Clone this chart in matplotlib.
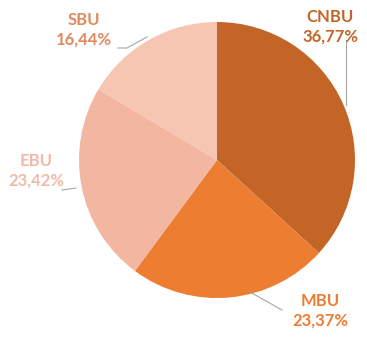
import matplotlib.pyplot as plt

# datos
labels = ['CNBU', 'MBU', 'EBU', 'SBU']
values = [36.77, 23.37, 23.42, 16.44]
pct_text = ['36,77%', '23,37%', '23,42%', '16,44%']
colors = ['#C46528', '#ED7D31', '#F3B6A1', '#F6C6B3']
text_colors = ['#C46528', '#ED7D31', '#F1B9A9', '#DE8A5E']

fig = plt.figure(figsize=(3.67, 3.38), dpi=100)
ax = fig.add_axes([0, 0, 1, 1])

H = 338
ax.pie(values, colors=colors, startangle=90, counterclock=False,
       center=(217, H - 160), radius=138, frame=True,
       wedgeprops={'linewidth': 0})
ax.set_xlim(0, 367)
ax.set_ylim(0, 338)
ax.set_aspect('equal')
ax.axis('off')

# posiciones de las etiquetas (pixeles)
label_pos = [(330, 27), (320, 311), (36, 171), (84, 30)]
for lab, pct, c, (x, y) in zip(labels, pct_text, text_colors, label_pos):
    ax.text(x, H - y, lab + '\n' + pct, color=c, fontsize=12,
            fontweight='bold', family='Lato', ha='center', va='center',
            linespacing=1.3)

# lineas guia
lines = [
    ([346, 346], [40, 105]),
    ([250, 282], [292, 310]),
    ([62, 76], [190, 188]),
    ([118, 127, 147], [48, 48, 37]),
]
for xs, ys in lines:
    ax.plot(xs, [H - v for v in ys], color='#A6A6A6', linewidth=0.8)

fig.savefig('out.png', dpi=100)
